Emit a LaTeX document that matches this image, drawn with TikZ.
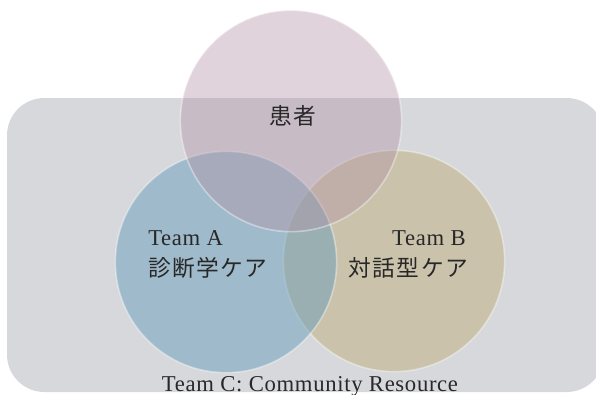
\documentclass[tikz,border=0pt]{standalone}
\usepackage{fontspec}
\setmainfont[LetterSpace=3]{Liberation Serif}
\newfontfamily\jp[LetterSpace=6]{Noto Sans CJK JP}

\definecolor{rectgray}{RGB}{215,216,220}
\definecolor{patientpink}{RGB}{177,146,165}
\definecolor{teamblue}{RGB}{105,158,186}
\definecolor{teamtan}{RGB}{191,174,122}
\definecolor{labeltext}{RGB}{40,40,40}

\tikzset{
  venn/.style={circle, minimum size=166pt, inner sep=0pt, draw=white, draw opacity=0.4, line width=1.2pt},
  lbl/.style={text=labeltext, inner sep=0pt, font=\fontsize{17}{20}\selectfont},
  jlbl/.style={lbl, font=\jp\fontsize{17}{20}\selectfont}
}

\begin{document}
\begin{tikzpicture}[x=0.75pt, y=-0.75pt]
\useasboundingbox (0,0) rectangle (596,394);
\fill[rectgray, rounded corners=28pt] (7,98) rectangle (604,392);
\node[venn, fill=teamtan, fill opacity=0.5] (teamB) at (394,261) {};
\node[venn, fill=teamblue, fill opacity=0.5] (teamA) at (226,262) {};
\node[venn, fill=patientpink, fill opacity=0.4] (patient) at (291,121) {};

\node[jlbl] (patientText) at (293,116) {患者};
\node[lbl, anchor=base west] (nameA) at (148,245) {Team A};
\node[jlbl, anchor=base west] (careA) at (148,276) {診断学ケア};
\node[lbl, anchor=base east] (nameB) at (466,245) {Team B};
\node[jlbl, anchor=base east] (careB) at (468,276) {対話型ケア};
\node[lbl, anchor=base] (teamC) at (310,391) {Team C: Community Resource};
\end{tikzpicture}
\end{document}
